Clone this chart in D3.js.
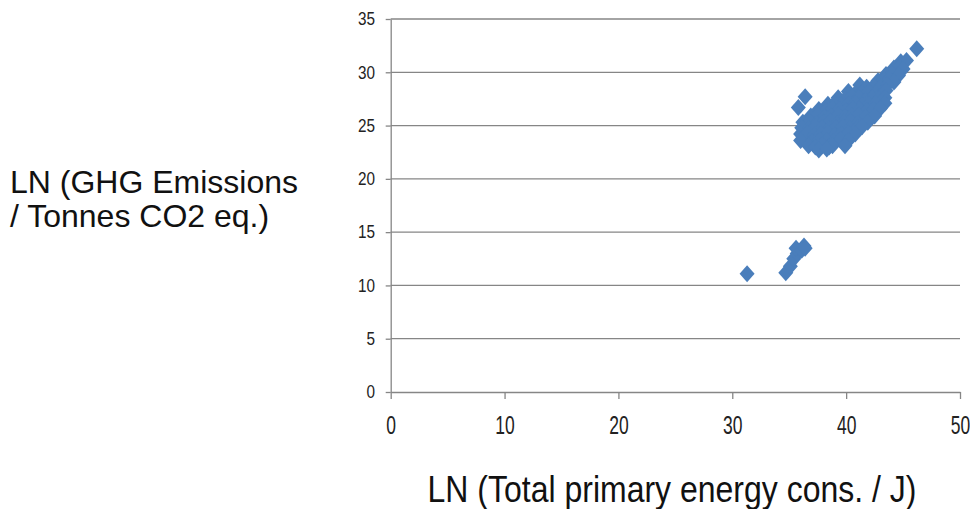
<!DOCTYPE html>
<html>
<head>
<meta charset="utf-8">
<script src="https://cdn.jsdelivr.net/npm/d3@7"></script>
<style>
  html, body { margin: 0; padding: 0; background: #ffffff; }
  svg { display: block; }
</style>
</head>
<body>
<svg id="chart" width="970" height="509"></svg>
<script>
// ---- data ----
const xTicks = [0, 10, 20, 30, 40, 50];
const yTicks = [0, 5, 10, 15, 20, 25, 30, 35];
const xTitle = "LN (Total primary energy cons. / J)";
const yTitleLines = ["LN (GHG Emissions", "/ Tonnes CO2 eq.)"];

// main cluster: LN energy (x), LN emissions (y)
const mainX = [
  46.2,
  44.8, 45.3,
  44.2, 44.7, 45.0,
  43.5, 44.0, 44.6,
  42.8, 43.3, 43.8, 44.2,
  41.2, 41.8, 42.4, 43.0, 43.6,
  40.2, 40.8, 41.4, 42.0, 42.6, 43.2, 43.5,
  36.4, 39.3, 39.9, 40.5, 41.1, 41.7, 42.3, 42.9, 43.4,
  38.4, 39.0, 39.6, 40.2, 40.8, 41.4, 42.0, 42.6, 43.4,
  35.8, 37.6, 38.2, 38.8, 39.4, 40.0, 40.6, 41.2, 41.8, 42.4, 43.0,
  36.9, 37.5, 38.1, 38.7, 39.3, 39.9, 40.5, 41.1, 41.7, 42.5,
  36.2, 36.8, 37.4, 38.0, 38.6, 39.2, 39.8, 40.4, 41.0, 41.9,
  36.1, 36.7, 37.3, 37.9, 38.5, 39.1, 39.7, 40.3, 41.0, 41.4,
  36.0, 36.6, 37.2, 37.8, 38.4, 39.0, 39.6, 40.2, 40.8,
  36.0, 37.0, 37.7, 38.3, 38.9, 39.5, 40.2,
  36.7, 37.3, 37.9, 38.5, 38.8, 39.9,
  37.6, 38.3
];
const mainY = [
  32.2,
  31.0, 31.1,
  30.4, 30.5, 30.3,
  29.8, 29.9, 29.7,
  29.2, 29.3, 29.4, 29.1,
  28.8, 28.6, 28.7, 28.6, 28.8,
  28.2, 28.0, 28.1, 28.2, 28.0, 28.1, 28.3,
  27.7, 27.6, 27.5, 27.7, 27.6, 27.4, 27.6, 27.5, 27.6,
  27.0, 27.1, 26.9, 27.0, 27.1, 26.9, 27.0, 27.1, 27.1,
  26.7, 26.5, 26.4, 26.6, 26.5, 26.4, 26.6, 26.5, 26.4, 26.5, 26.6,
  25.9, 26.0, 25.8, 25.9, 26.0, 25.8, 25.9, 26.0, 25.8, 25.9,
  25.3, 25.4, 25.2, 25.3, 25.4, 25.2, 25.3, 25.4, 25.2, 25.3,
  24.8, 24.7, 24.9, 24.8, 24.7, 24.8, 24.9, 24.7, 24.8, 24.9,
  24.2, 24.3, 24.1, 24.2, 24.3, 24.1, 24.2, 24.3, 24.2,
  23.6, 23.5, 23.7, 23.6, 23.5, 23.7, 23.6,
  23.1, 23.0, 23.2, 23.0, 23.1, 23.1,
  22.7, 22.8
];
// lower cluster
const lowX = [31.3, 34.7, 35.1, 35.4, 35.7, 35.6, 36.1, 36.3, 36.4];
const lowY = [11.1, 11.2, 11.8, 12.5, 13.0, 13.5, 13.3, 13.7, 13.5];

// ---- drawing ----
const svg = d3.select("#chart");
const x = d3.scaleLinear().domain([0, 50]).range([390.7, 960]);
const y = d3.scaleLinear().domain([0, 35]).range([392, 19]);

const grey = "#868686";
const blue = "#4A7EBB";
const tickFont = "'Liberation Sans Narrow', 'Liberation Sans', Arial, sans-serif";

// gridlines
svg.append("g")
  .selectAll("line")
  .data(yTicks.filter(d => d > 0))
  .join("line")
  .attr("x1", x(0)).attr("x2", x(50))
  .attr("y1", d => y(d)).attr("y2", d => y(d))
  .attr("stroke", grey).attr("stroke-width", 1.3);

// y axis
const yAxis = svg.append("g")
  .attr("transform", `translate(${x(0)},0)`)
  .call(d3.axisLeft(y).tickValues(yTicks).tickSize(5).tickSizeOuter(0).tickPadding(13.5));
yAxis.selectAll("path, line").attr("stroke", grey).attr("stroke-width", 1.3);
yAxis.selectAll("text")
  .attr("font-family", tickFont)
  .attr("font-size", 18).attr("fill", "#222")
  .attr("transform", "scale(0.85,1)");

// x axis
const xAxis = svg.append("g")
  .attr("transform", `translate(0,${y(0)})`)
  .call(d3.axisBottom(x).tickValues(xTicks).tickSize(7).tickSizeOuter(0).tickPadding(17));
xAxis.selectAll("path, line").attr("stroke", grey).attr("stroke-width", 1.3);
xAxis.selectAll("text")
  .attr("font-family", tickFont)
  .attr("font-size", 25).attr("fill", "#222")
  .attr("transform", "scale(0.7,1)");

// markers
const diamond = {
  draw(ctx) {
    const w = 7.5, h = 8.5;
    ctx.moveTo(0, -h); ctx.lineTo(w, 0); ctx.lineTo(0, h); ctx.lineTo(-w, 0); ctx.closePath();
  }
};
const pts = mainX.map((v, i) => [v, mainY[i]]).concat(lowX.map((v, i) => [v, lowY[i]]));
svg.append("g")
  .selectAll("path")
  .data(pts)
  .join("path")
  .attr("d", d3.symbol().type(diamond)())
  .attr("transform", d => `translate(${x(d[0])},${y(d[1])})`)
  .attr("fill", blue);

// titles
const yt = svg.append("text")
  .attr("font-family", "'Liberation Sans', Arial, sans-serif")
  .attr("font-size", 32).attr("fill", "#111");
yt.selectAll("tspan").data(yTitleLines).join("tspan")
  .attr("x", 10).attr("y", (d, i) => 193 + i * 34).text(d => d);

svg.append("text")
  .attr("transform", "translate(672,502) scale(1,1.15)")
  .attr("text-anchor", "middle")
  .attr("font-family", "'Liberation Sans', Arial, sans-serif")
  .attr("font-size", 32).attr("fill", "#111")
  .text(xTitle);
</script>
</body>
</html>
